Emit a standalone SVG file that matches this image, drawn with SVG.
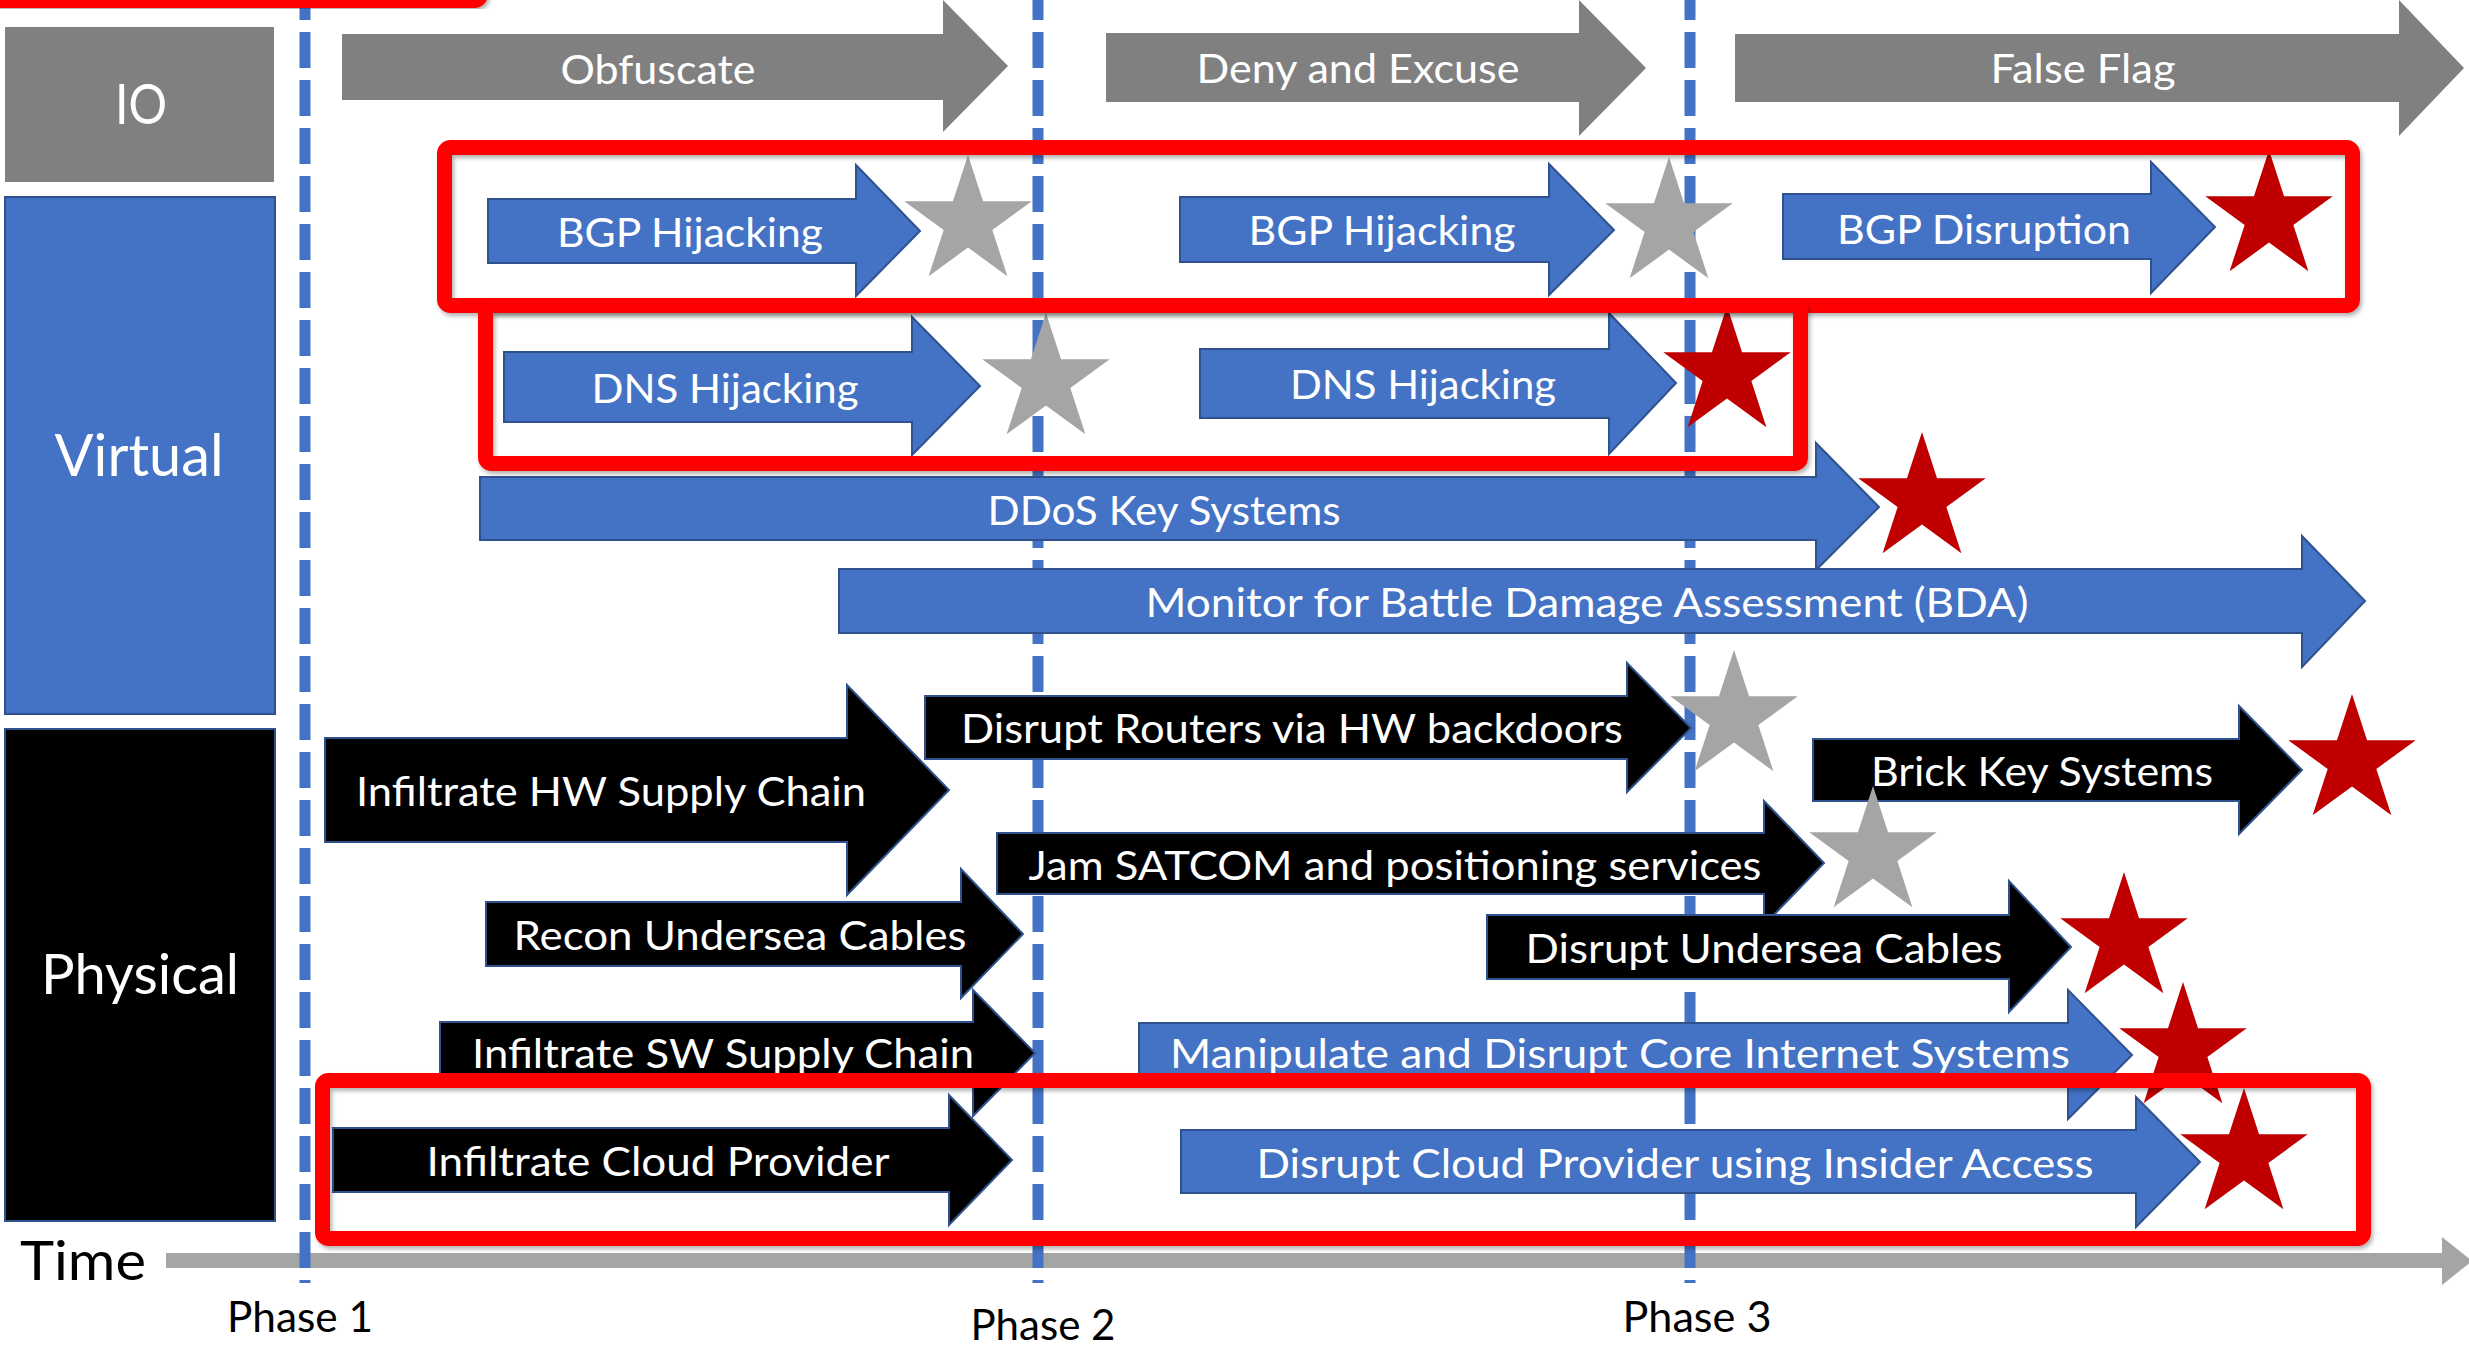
<svg xmlns="http://www.w3.org/2000/svg" xmlns:xlink="http://www.w3.org/1999/xlink" width="2469" height="1346" viewBox="0 0 2469 1346">
  <style>
    .lbl { font-family: Lato, "Open Sans", "Liberation Sans", sans-serif; fill: #ffffff; text-anchor: middle; }
    .arw { font-size: 41px; }
    .cat { font-size: 58px; }
    .axis { font-family: Lato, "Open Sans", "Liberation Sans", sans-serif; fill: #000000; }
    .io { fill: #808080; }
    .blue { fill: #4472C4; stroke: #2F528F; stroke-width: 2; }
    .black { fill: #000000; stroke: #2F528F; stroke-width: 2; }
    .phase { stroke: #4472C4; stroke-width: 11; stroke-dasharray: 36 12; stroke-dashoffset: 16; fill: none; }
    .box { fill: none; stroke: #FF0000; stroke-width: 15; filter: url(#shade); }
    .gstar { fill: #A5A5A5; }
    .rstar { fill: #C00000; }
  </style>
  <defs>
    <filter id="shade" x="-5%" y="-20%" width="110%" height="140%">
      <feDropShadow dx="2" dy="3" stdDeviation="2" flood-color="#000" flood-opacity="0.3"/>
    </filter>
    <path id="star" d="M0,-67 L15.05,-20.71 L63.72,-20.7 L24.35,7.91 L39.38,54.2 L0,25.6 L-39.38,54.2 L-24.35,7.91 L-63.72,-20.7 L-15.05,-20.71 Z"/>
  </defs>

  <rect width="2469" height="1346" fill="#ffffff"/>

  <!-- time axis -->
  <g id="time-axis">
    <polygon points="166,1253 2442,1253 2442,1237 2472,1261 2442,1285 2442,1268 166,1268" fill="#A5A5A5"/>
    <text class="axis" x="20" y="1280" font-size="55" textLength="126" lengthAdjust="spacingAndGlyphs">Time</text>
  </g>

  <!-- phase boundaries -->
  <g id="connectors">
    <line class="phase" x1="305" y1="0" x2="305" y2="1283"/>
    <line class="phase" x1="1038" y1="0" x2="1038" y2="1283"/>
    <line class="phase" x1="1690" y1="0" x2="1690" y2="1283"/>
  </g>

  <g id="phase-labels">
    <text class="axis" x="300" y="1332" font-size="42" text-anchor="middle" textLength="146" lengthAdjust="spacingAndGlyphs">Phase 1</text>
    <text class="axis" x="1043" y="1340" font-size="42" text-anchor="middle" textLength="145" lengthAdjust="spacingAndGlyphs">Phase 2</text>
    <text class="axis" x="1697" y="1332" font-size="42" text-anchor="middle" textLength="149" lengthAdjust="spacingAndGlyphs">Phase 3</text>
  </g>

  <!-- domain columns -->
  <g id="domain-io">
    <rect class="io" x="5" y="27" width="269" height="155"/>
    <text class="lbl" x="141" y="124" font-size="57" textLength="52" lengthAdjust="spacingAndGlyphs">IO</text>
  </g>
  <g id="domain-virtual">
    <rect class="blue" x="5" y="197" width="270" height="517"/>
    <text class="lbl cat" x="139" y="476" textLength="169" lengthAdjust="spacingAndGlyphs">Virtual</text>
  </g>
  <g id="domain-physical">
    <rect class="black" x="5" y="729" width="270" height="492"/>
    <text class="lbl" x="140" y="994" font-size="57" textLength="198" lengthAdjust="spacingAndGlyphs">Physical</text>
  </g>

  <!-- information operations -->
  <g id="obfuscate">
    <polygon class="io" points="342,34 943,34 943,0 1008,66 943,132 943,100 342,100"/>
    <text class="lbl arw" x="658" y="84" textLength="195" lengthAdjust="spacingAndGlyphs">Obfuscate</text>
  </g>
  <g id="deny-excuse">
    <polygon class="io" points="1106,33 1579,33 1579,0 1646,68 1579,136 1579,102 1106,102"/>
    <text class="lbl arw" x="1358" y="83" textLength="323" lengthAdjust="spacingAndGlyphs">Deny and Excuse</text>
  </g>
  <g id="false-flag">
    <polygon class="io" points="1735,34 2399,34 2399,0 2464,68 2399,136 2399,102 1735,102"/>
    <text class="lbl arw" x="2083" y="83" textLength="185" lengthAdjust="spacingAndGlyphs">False Flag</text>
  </g>

  <!-- virtual actions -->
  <g id="bgp-hijacking-1">
    <polygon class="blue" points="488,199 856,199 856,165 920,231 856,296 856,263 488,263"/>
    <text class="lbl arw" x="690" y="247" textLength="266" lengthAdjust="spacingAndGlyphs">BGP Hijacking</text>
  </g>
  <g id="bgp-hijacking-2">
    <polygon class="blue" points="1180,197 1549,197 1549,164 1614,230 1549,295 1549,262 1180,262"/>
    <text class="lbl arw" x="1382" y="245" textLength="267" lengthAdjust="spacingAndGlyphs">BGP Hijacking</text>
  </g>
  <g id="bgp-disruption">
    <polygon class="blue" points="1783,194 2151,194 2151,162 2215,227 2151,293 2151,259 1783,259"/>
    <text class="lbl arw" x="1984" y="244" textLength="294" lengthAdjust="spacingAndGlyphs">BGP Disruption</text>
  </g>
  <g id="dns-hijacking-1">
    <polygon class="blue" points="504,352 912,352 912,317 980,386 912,455 912,422 504,422"/>
    <text class="lbl arw" x="725" y="403" textLength="267" lengthAdjust="spacingAndGlyphs">DNS Hijacking</text>
  </g>
  <g id="dns-hijacking-2">
    <polygon class="blue" points="1200,349 1609,349 1609,313 1676,383 1609,454 1609,418 1200,418"/>
    <text class="lbl arw" x="1423" y="399" textLength="266" lengthAdjust="spacingAndGlyphs">DNS Hijacking</text>
  </g>
  <g id="ddos">
    <polygon class="blue" points="480,477 1816,477 1816,443 1879,507 1816,570 1816,540 480,540"/>
    <text class="lbl arw" x="1164" y="525" textLength="353" lengthAdjust="spacingAndGlyphs">DDoS Key Systems</text>
  </g>
  <g id="monitor-bda">
    <polygon class="blue" points="839,569 2302,569 2302,536 2365,601 2302,667 2302,633 839,633"/>
    <text class="lbl arw" x="1587" y="617" textLength="883" lengthAdjust="spacingAndGlyphs">Monitor for Battle Damage Assessment (BDA)</text>
  </g>

  <!-- physical actions -->
  <g id="infiltrate-hw">
    <polygon class="black" points="325,738 847,738 847,685 949,790 847,895 847,842 325,842"/>
    <text class="lbl arw" x="611" y="806" textLength="510" lengthAdjust="spacingAndGlyphs">Infiltrate HW Supply Chain</text>
  </g>
  <g id="disrupt-routers">
    <polygon class="black" points="925,696 1627,696 1627,663 1691,728 1627,792 1627,759 925,759"/>
    <text class="lbl arw" x="1292" y="743" textLength="662" lengthAdjust="spacingAndGlyphs">Disrupt Routers via HW backdoors</text>
  </g>
  <g id="brick-key-systems">
    <polygon class="black" points="1813,739 2239,739 2239,706 2302,770 2239,834 2239,801 1813,801"/>
    <text class="lbl arw" x="2042" y="786" textLength="342" lengthAdjust="spacingAndGlyphs">Brick Key Systems</text>
  </g>
  <g id="jam-satcom">
    <polygon class="black" points="997,833 1764,833 1764,801 1824,863 1764,925 1764,894 997,894"/>
    <text class="lbl arw" x="1395" y="880" textLength="733" lengthAdjust="spacingAndGlyphs">Jam SATCOM and positioning services</text>
  </g>
  <g id="recon-undersea">
    <polygon class="black" points="486,902 961,902 961,869 1023,934 961,998 961,966 486,966"/>
    <text class="lbl arw" x="740" y="950" textLength="453" lengthAdjust="spacingAndGlyphs">Recon Undersea Cables</text>
  </g>
  <g id="disrupt-undersea">
    <polygon class="black" points="1487,915 2009,915 2009,881 2071,947 2009,1012 2009,979 1487,979"/>
    <text class="lbl arw" x="1764" y="963" textLength="477" lengthAdjust="spacingAndGlyphs">Disrupt Undersea Cables</text>
  </g>
  <g id="infiltrate-sw">
    <polygon class="black" points="440,1022 973,1022 973,990 1035,1053 973,1116 973,1084 440,1084"/>
    <text class="lbl arw" x="723" y="1068" textLength="502" lengthAdjust="spacingAndGlyphs">Infiltrate SW Supply Chain</text>
  </g>
  <g id="manipulate-core">
    <polygon class="blue" points="1139,1023 2068,1023 2068,990 2132,1055 2068,1119 2068,1087 1139,1087"/>
    <text class="lbl arw" x="1620" y="1068" textLength="900" lengthAdjust="spacingAndGlyphs">Manipulate and Disrupt Core Internet Systems</text>
  </g>
  <g id="infiltrate-cloud">
    <polygon class="black" points="333,1128 949,1128 949,1095 1012,1160 949,1225 949,1192 333,1192"/>
    <text class="lbl arw" x="658" y="1176" textLength="463" lengthAdjust="spacingAndGlyphs">Infiltrate Cloud Provider</text>
  </g>
  <g id="disrupt-cloud">
    <polygon class="blue" points="1181,1130 2136,1130 2136,1097 2200,1162 2136,1227 2136,1193 1181,1193"/>
    <text class="lbl arw" x="1675" y="1178" textLength="837" lengthAdjust="spacingAndGlyphs">Disrupt Cloud Provider using Insider Access</text>
  </g>

  <!-- outcome stars: grey = preparatory, red = effect -->
  <g id="star-bgp-1"><use xlink:href="#star" href="#star" class="gstar" x="968" y="222"/></g>
  <g id="star-bgp-2"><use xlink:href="#star" href="#star" class="gstar" x="1669" y="224"/></g>
  <g id="star-bgp-3"><use xlink:href="#star" href="#star" class="rstar" x="2269" y="217"/></g>
  <g id="star-dns-1"><use xlink:href="#star" href="#star" class="gstar" x="1046" y="380"/></g>
  <g id="star-dns-2"><use xlink:href="#star" href="#star" class="rstar" x="1727" y="373"/></g>
  <g id="star-ddos"><use xlink:href="#star" href="#star" class="rstar" x="1922" y="499"/></g>
  <g id="star-routers"><use xlink:href="#star" href="#star" class="gstar" x="1734" y="717"/></g>
  <g id="star-brick"><use xlink:href="#star" href="#star" class="rstar" x="2352" y="761"/></g>
  <g id="star-jam"><use xlink:href="#star" href="#star" class="gstar" x="1873" y="853"/></g>
  <g id="star-undersea"><use xlink:href="#star" href="#star" class="rstar" x="2124" y="939"/></g>
  <g id="star-core"><use xlink:href="#star" href="#star" class="rstar" x="2183" y="1049"/></g>
  <g id="star-cloud"><use xlink:href="#star" href="#star" class="rstar" x="2244" y="1155"/></g>

  <!-- highlight frames -->
  <g id="highlights">
    <rect class="box" x="-20" y="-40" width="500.5" height="40.5" rx="6"/>
    <rect class="box" x="444.5" y="147.5" width="1908" height="158" rx="6"/>
    <rect class="box" x="485.5" y="305.5" width="1315" height="158" rx="6"/>
    <rect class="box" x="322.5" y="1080.5" width="2041" height="158" rx="6"/>
  </g>
</svg>
